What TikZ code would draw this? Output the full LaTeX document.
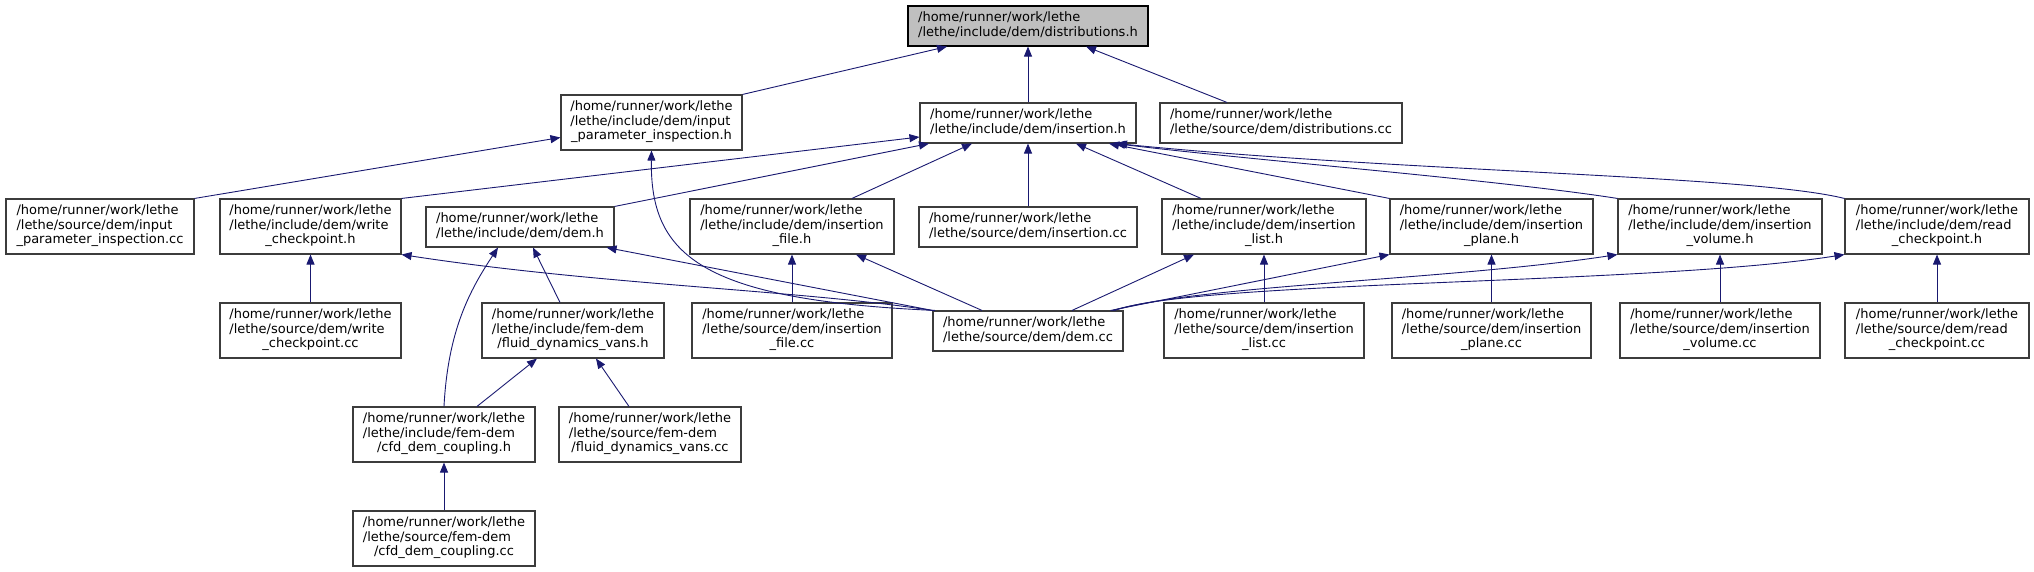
\documentclass[tikz,border=0pt]{standalone}
\usepackage{fontspec}
\setmainfont{DejaVu Sans}
\usepackage{tikz}
\usetikzlibrary{arrows.meta}
\usepackage{xcolor}
\definecolor{edgeblue}{HTML}{191970}
\definecolor{boxline}{HTML}{3C3C3C}
\definecolor{mainfill}{HTML}{BFBFBF}
\newcommand{\rootdir}{/home/runner/work/lethe}
\newcommand{\twolines}[1]{\begin{tabular}{@{}l@{}}\rootdir\\#1\end{tabular}}
\newcommand{\threelines}[2]{\begin{tabular}{@{}l@{}}\rootdir\\#1\\\multicolumn{1}{@{}c@{}}{#2}\end{tabular}}

\begin{document}
\begin{tikzpicture}[x=1pt, y=-1pt,
  file/.style={draw=boxline, line width=1.1pt, fill=white, inner sep=0pt,
    font=\fontsize{13}{14.5}\selectfont},
  two/.style={file, minimum height=40},
  three/.style={file, minimum height=55},
  inc/.style={draw=edgeblue, line width=0.9pt, -{Triangle[length=10pt, width=8pt]}}]
  \useasboundingbox (0,0) rectangle (2034,572);

  % files
  \node[two, fill=mainfill, draw=black, minimum width=240] (dist) at (1028,26) {\twolines{/lethe/include/dem/distributions.h}};
  \node[three, minimum width=181] (ipinsh) at (651.5,122.5) {\threelines{/lethe/include/dem/input}{\_parameter\_inspection.h}};
  \node[two, minimum width=216] (insh) at (1028,123) {\twolines{/lethe/include/dem/insertion.h}};
  \node[two, minimum width=242] (distcc) at (1281,123) {\twolines{/lethe/source/dem/distributions.cc}};

  \node[three, minimum width=188] (ipinscc) at (100,226.5) {\threelines{/lethe/source/dem/input}{\_parameter\_inspection.cc}};
  \node[three, minimum width=181] (wcph) at (310.5,226.5) {\threelines{/lethe/include/dem/write}{\_checkpoint.h}};
  \node[two, minimum width=188] (demh) at (520,227) {\twolines{/lethe/include/dem/dem.h}};
  \node[three, minimum width=204] (insfh) at (792,226.5) {\threelines{/lethe/include/dem/insertion}{\_file.h}};
  \node[two, minimum width=218] (inscc) at (1028,227) {\twolines{/lethe/source/dem/insertion.cc}};
  \node[three, minimum width=204] (inslh) at (1264,226.5) {\threelines{/lethe/include/dem/insertion}{\_list.h}};
  \node[three, minimum width=203] (inseph) at (1491.5,226.5) {\threelines{/lethe/include/dem/insertion}{\_plane.h}};
  \node[three, minimum width=204] (insvh) at (1720,226.5) {\threelines{/lethe/include/dem/insertion}{\_volume.h}};
  \node[three, minimum width=184] (rcph) at (1937,226.5) {\threelines{/lethe/include/dem/read}{\_checkpoint.h}};

  \node[three, minimum width=181] (wcpcc) at (310.5,330.5) {\threelines{/lethe/source/dem/write}{\_checkpoint.cc}};
  \node[three, minimum width=182] (fdvh) at (573,330.5) {\threelines{/lethe/include/fem-dem}{/fluid\_dynamics\_vans.h}};
  \node[three, minimum width=200] (insfcc) at (792,330.5) {\threelines{/lethe/source/dem/insertion}{\_file.cc}};
  \node[two, minimum width=190] (demcc) at (1028,331) {\twolines{/lethe/source/dem/dem.cc}};
  \node[three, minimum width=200] (inslcc) at (1264,330.5) {\threelines{/lethe/source/dem/insertion}{\_list.cc}};
  \node[three, minimum width=199] (insepcc) at (1491.5,330.5) {\threelines{/lethe/source/dem/insertion}{\_plane.cc}};
  \node[three, minimum width=200] (insvcc) at (1720,330.5) {\threelines{/lethe/source/dem/insertion}{\_volume.cc}};
  \node[three, minimum width=184] (rcpcc) at (1937,330.5) {\threelines{/lethe/source/dem/read}{\_checkpoint.cc}};

  \node[three, minimum width=182] (cfdh) at (444,434.5) {\threelines{/lethe/include/fem-dem}{/cfd\_dem\_coupling.h}};
  \node[three, minimum width=182] (fdvcc) at (650,434.5) {\threelines{/lethe/source/fem-dem}{/fluid\_dynamics\_vans.cc}};
  \node[three, minimum width=182] (cfdcc) at (444,538.5) {\threelines{/lethe/source/fem-dem}{/cfd\_dem\_coupling.cc}};

  % includes of distributions.h
  \draw[inc] (ipinsh.north east) -- ([xshift=-81pt]dist.south);
  \draw[inc] (insh.north) -- (dist.south);
  \draw[inc] ([xshift=-54pt]distcc.north) -- ([xshift=58pt]dist.south);

  % input_parameter_inspection.h
  \draw[inc] (ipinscc.north east) -- ([yshift=-15pt]ipinsh.west);
  \draw[inc] ([xshift=-93pt]demcc.north) .. controls (700,300) and (650,255) .. (ipinsh.south);

  % insertion.h
  \draw[inc] (wcph.north east) -- ([yshift=-14pt]insh.west);
  \draw[inc] (demh.north east) -- ([xshift=-99pt]insh.south);
  \draw[inc] ([xshift=60pt]insfh.north) -- ([xshift=-56pt]insh.south);
  \draw[inc] (inscc.north) -- (insh.south);
  \draw[inc] ([xshift=-63pt]inslh.north) -- ([xshift=48pt]insh.south);
  \draw[inc] (inseph.north west) -- ([xshift=81pt]insh.south);
  \draw[inc] (insvh.north west) .. controls (1500,180) and (1250,160) .. ([xshift=87pt]insh.south);
  \draw[inc] (rcph.north west) .. controls (1750,175) and (1400,172) .. ([xshift=89pt]insh.south);

  % write_checkpoint.h
  \draw[inc] (wcpcc.north) -- (wcph.south);
  \draw[inc] (demcc.north west) .. controls (800,290) and (600,285) .. (wcph.south east);

  % dem.h
  \draw[inc] (cfdh.north) .. controls (448,330) and (470,290) .. ([xshift=-22pt]demh.south);
  \draw[inc] ([xshift=-13pt]fdvh.north) -- ([xshift=13pt]demh.south);
  \draw[inc] (demcc.north west) -- ([xshift=-8pt]demh.south east);

  % fluid_dynamics_vans.h
  \draw[inc] ([xshift=33pt]cfdh.north) -- ([xshift=-36pt]fdvh.south);
  \draw[inc] ([xshift=-21pt]fdvcc.north) -- ([xshift=23pt]fdvh.south);
  \draw[inc] (cfdcc.north) -- (cfdh.south);

  % insertion_*.h and read_checkpoint.h
  \draw[inc] (insfcc.north) -- (insfh.south);
  \draw[inc] ([xshift=-46pt]demcc.north) -- ([xshift=64pt]insfh.south);
  \draw[inc] ([xshift=44pt]demcc.north) -- ([xshift=-70pt]inslh.south);
  \draw[inc] (inslcc.north) -- (inslh.south);
  \draw[inc] ([xshift=-13pt]demcc.north east) -- (inseph.south west);
  \draw[inc] (insepcc.north) -- (inseph.south);
  \draw[inc] ([xshift=-11pt]demcc.north east) .. controls (1200,285) and (1450,280) .. (insvh.south west);
  \draw[inc] (insvcc.north) -- (insvh.south);
  \draw[inc] ([xshift=-9pt]demcc.north east) .. controls (1200,280) and (1650,285) .. (rcph.south west);
  \draw[inc] (rcpcc.north) -- (rcph.south);
\end{tikzpicture}
\end{document}
